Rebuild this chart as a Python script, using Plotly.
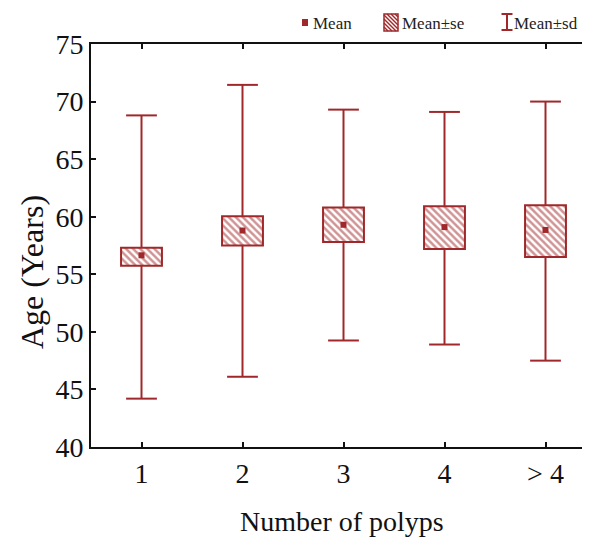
import plotly.graph_objects as go

categories = ["1", "2", "3", "4", "> 4"]
mean = [56.65, 58.8, 59.3, 59.1, 58.85]
se_low = [55.75, 57.5, 57.8, 57.2, 56.5]
se_high = [57.3, 60.05, 60.8, 60.9, 61.0]
sd_low = [44.2, 46.1, 49.25, 48.9, 47.5]
sd_high = [68.8, 71.45, 69.3, 69.1, 70.0]
y_ticks = [40, 45, 50, 55, 60, 65, 70, 75]

RED = "#a0282a"
FONT = "Liberation Serif"
OFF = 8  # page body margin
W, H = 590 - OFF, 537 - OFF
ML, MR, MT, MB = 91 - OFF, 0, 44 - OFF, 90
PW, PH = W - ML - MR, H - MT - MB

x = list(range(1, len(categories) + 1))

fig = go.Figure()

# whiskers (mean±sd lines outside the se box)
wx, wy = [], []
for xi, a, b, c, d in zip(x, sd_low, se_low, se_high, sd_high):
    wx += [xi, xi, None, xi, xi, None]
    wy += [a, b, None, c, d, None]
fig.add_trace(go.Scatter(x=wx, y=wy, mode="lines", line=dict(color=RED, width=2),
                         hoverinfo="skip", showlegend=False))

# se boxes
fig.add_trace(go.Bar(
    x=x, y=[h - l for h, l in zip(se_high, se_low)], base=se_low, width=0.405,
    marker=dict(color="white", line=dict(color=RED, width=2),
                pattern=dict(shape="\\", fgcolor=RED, bgcolor="white", size=5, solidity=0.5)),
    showlegend=False))

# caps
fig.add_trace(go.Scatter(x=x + x, y=sd_low + sd_high, mode="markers",
                         marker=dict(symbol="line-ew", size=22, line=dict(color=RED, width=2)),
                         showlegend=False, hoverinfo="skip"))

# means
fig.add_trace(go.Scatter(x=x, y=mean, mode="markers",
                         marker=dict(symbol="square", size=6, color=RED), showlegend=False))


def px(p):  # screen pixel x -> paper
    return (p - OFF - ML) / PW


def py(p):  # screen pixel y -> paper
    return (H - MB - (p - OFF)) / PH


shapes = []
# legend: Mean marker
shapes.append(dict(type="rect", xref="paper", yref="paper", x0=px(302), x1=px(308), y0=py(26), y1=py(19),
                   fillcolor=RED, line=dict(width=0)))
# legend: hatched se icon
x0, x1, y0, y1 = 384, 398, 14, 31
shapes.append(dict(type="rect", xref="paper", yref="paper", x0=px(x0), x1=px(x1), y0=py(y1), y1=py(y0),
                   fillcolor="white", line=dict(color=RED, width=1.5)))
step = 4.0
c = -(y1 - y0)
while c < (x1 - x0):
    pts = []
    for t in [0, x1 - x0]:
        yy = t - c
        if 0 <= yy <= (y1 - y0):
            pts.append((t, yy))
    for yy in [0, y1 - y0]:
        t = yy + c
        if 0 <= t <= (x1 - x0):
            pts.append((t, yy))
    if len(pts) >= 2:
        (ax, ay), (bx, by) = pts[0], pts[-1]
        shapes.append(dict(type="line", xref="paper", yref="paper",
                           x0=px(x0 + ax), y0=py(y0 + ay), x1=px(x0 + bx), y1=py(y0 + by),
                           line=dict(color=RED, width=1.4)))
    c += step
# legend: sd I-beam icon
ix, it, ib, iw = 507, 14, 30, 11
shapes.append(dict(type="line", xref="paper", yref="paper", x0=px(ix), x1=px(ix), y0=py(ib), y1=py(it),
                   line=dict(color=RED, width=2)))
for yy in (it, ib):
    shapes.append(dict(type="line", xref="paper", yref="paper", x0=px(ix - iw / 2), x1=px(ix + iw / 2),
                       y0=py(yy), y1=py(yy), line=dict(color=RED, width=2)))

LEG = dict(family=FONT, size=17, color="#222")
annotations = [
    dict(text="Mean", x=px(311), y=py(23), xref="paper", yref="paper", xanchor="left", yanchor="middle",
         showarrow=False, font=LEG),
    dict(text="Mean±se", x=px(400), y=py(23), xref="paper", yref="paper", xanchor="left", yanchor="middle",
         showarrow=False, font=LEG),
    dict(text="Mean±sd", x=px(512), y=py(23), xref="paper", yref="paper", xanchor="left", yanchor="middle",
         showarrow=False, font=LEG),
    dict(text="Number of polyps", x=px(342), y=py(521), xref="paper", yref="paper", xanchor="center",
         yanchor="middle", showarrow=False, font=dict(family=FONT, size=28, color="#111")),
    dict(text="Age (Years)", x=px(32), y=py(272), xref="paper", yref="paper", xanchor="center",
         yanchor="middle", textangle=-90, showarrow=False, font=dict(family=FONT, size=32, color="#111")),
]

fig.update_layout(
    width=W, height=H, margin=dict(l=ML, r=MR, t=MT, b=MB, pad=0),
    plot_bgcolor="white", paper_bgcolor="white",
    shapes=shapes, annotations=annotations, showlegend=False,
    xaxis=dict(range=[0.5, 0.5 + PW / 101], tickvals=x, ticktext=categories, ticks="inside", ticklen=5,
               tickwidth=1.5, tickcolor="#111", showline=True, linecolor="#111", linewidth=2,
               mirror="ticks", showgrid=False, zeroline=False,
               tickfont=dict(family=FONT, size=28, color="#111")),
    yaxis=dict(range=[40, 75], tickvals=y_ticks, ticks="inside", ticklen=5, tickwidth=1.5, tickcolor="#111",
               showline=True, linecolor="#111", linewidth=2, mirror=False, showgrid=False, zeroline=False,
               tickfont=dict(family=FONT, size=28, color="#111")),
)

fig.write_html("out.html")
